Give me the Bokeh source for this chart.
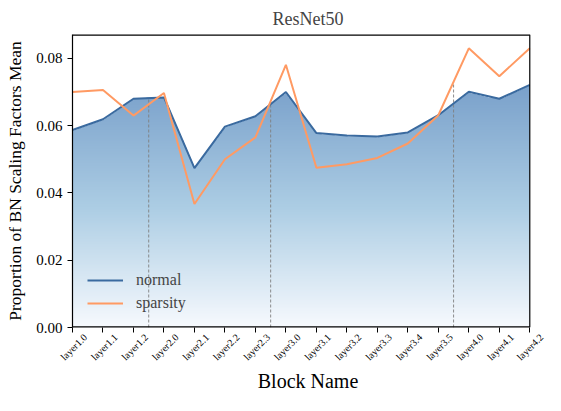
import numpy as np
from bokeh.plotting import figure
from bokeh.models import FixedTicker, Range1d, Legend, LegendItem, NumeralTickFormatter, LinearAxis
from bokeh.embed import file_html
from bokeh.resources import INLINE

blocks = ["layer1.0", "layer1.1", "layer1.2", "layer2.0", "layer2.1", "layer2.2", "layer2.3",
          "layer3.0", "layer3.1", "layer3.2", "layer3.3", "layer3.4", "layer3.5",
          "layer4.0", "layer4.1", "layer4.2"]
normal = [0.0587, 0.0619, 0.0680, 0.0684, 0.0474, 0.0597, 0.0628, 0.0700,
          0.0578, 0.0571, 0.0568, 0.0580, 0.0631, 0.0701, 0.0680, 0.0721]
sparsity = [0.0700, 0.0706, 0.0630, 0.0697, 0.0367, 0.0500, 0.0565, 0.0781,
            0.0475, 0.0485, 0.0504, 0.0547, 0.0631, 0.0830, 0.0747, 0.0830]
y_ticks = [0.0, 0.02, 0.04, 0.06, 0.08]

FONT = "Liberation Serif"
xpos = [float(i) for i in range(len(blocks))]
x = np.array(xpos)
YMAX = 0.0871
XMAX = float(len(blocks) - 1)
EXTRA = 0.45      # blank room right of the box so the last rotated label can show
LBL_SHIFT = 0.42  # centres the rotated labels on their ticks

p = figure(width=545, height=395, output_backend="svg", toolbar_location=None,
           x_range=Range1d(0, XMAX + EXTRA), y_range=Range1d(0, YMAX),
           min_border_left=72, min_border_right=2, min_border_top=30, min_border_bottom=60)
p.extra_x_ranges = {"lbl": Range1d(-LBL_SHIFT, XMAX + EXTRA - LBL_SHIFT)}

# gradient fill under the normal curve (image masked by the curve)
W, H = 457, 300
xs = np.linspace(0, XMAX, W)
ys = np.linspace(0, YMAX, H)
curve = np.interp(xs, x, normal)
stops_v = [0.0, 0.036, 0.072]
stops_c = np.array([[247, 250, 254], [172, 205, 228], [122, 161, 203]], dtype=float)
cols = np.stack([np.interp(ys, stops_v, stops_c[:, k]) for k in range(3)], axis=1)
img = np.zeros((H, W), dtype=np.uint32)
view = img.view(dtype=np.uint8).reshape((H, W, 4))
mask = ys[:, None] <= curve[None, :]
for k in range(3):
    view[:, :, k] = np.repeat(cols[:, k][:, None], W, axis=1).astype(np.uint8)
view[:, :, 3] = np.where(mask, 255, 0)
p.image_rgba(image=[img], x=0, y=0, dw=XMAX, dh=YMAX)

# group boundaries (dashed)
bx = [i - 0.5 for i in range(1, len(blocks)) if blocks[i].split(".")[0] != blocks[i - 1].split(".")[0]]
btop = [float(max(np.interp(b, x, normal), np.interp(b, x, sparsity))) for b in bx]
p.segment(x0=bx, y0=[0.0] * len(bx), x1=bx, y1=btop, line_color="#808080",
          line_dash="3 2", line_width=0.9)

r1 = p.line(xpos, normal, line_color="#3a6a9f", line_width=2)
r2 = p.line(xpos, sparsity, line_color="#ff9a63", line_width=2)

# box around the data area (top, right, bottom spines)
p.segment(x0=[0.0, XMAX, 0.0], y0=[YMAX, 0.0, 0.0], x1=[XMAX, XMAX, XMAX], y1=[YMAX, YMAX, 0.0],
          line_color="black", line_width=[2.4, 1.2, 2.4])

legend = Legend(items=[LegendItem(label="normal", renderers=[r1]),
                       LegendItem(label="sparsity", renderers=[r2])],
                location=(5, 4), border_line_alpha=0, background_fill_alpha=0,
                label_text_font=FONT, label_text_font_size="16px",
                glyph_width=36, spacing=3, label_standoff=13, padding=10)
p.add_layout(legend)

p.title.text = "ResNet50"
p.title.align = "center"
p.title.text_font = FONT
p.title.text_font_size = "18px"
p.title.text_font_style = "normal"
p.title.standoff = 12
p.title.offset = -4

# main x axis: ticks only
p.xaxis.ticker = FixedTicker(ticks=xpos)
p.xaxis.major_label_overrides = {i: "" for i in range(len(blocks))}
p.xaxis.major_label_standoff = 0
p.xaxis.major_label_text_font_size = "1px"
p.xaxis.axis_line_color = None

# label axis: rotated block names
lbl_axis = LinearAxis(x_range_name="lbl", ticker=FixedTicker(ticks=xpos),
                      major_label_overrides={i: b for i, b in enumerate(blocks)},
                      major_label_orientation=np.pi / 4,
                      major_label_text_font=FONT, major_label_text_font_size="10px",
                      major_label_text_color="black", major_label_standoff=3,
                      axis_line_color=None, major_tick_line_color=None, minor_tick_line_color=None,
                      major_tick_out=0, major_tick_in=0,
                      axis_label="Block Name", axis_label_text_font=FONT,
                      axis_label_text_font_size="20px", axis_label_text_font_style="normal",
                      axis_label_text_color="black", axis_label_standoff=1)
p.add_layout(lbl_axis, "below")

p.yaxis.ticker = FixedTicker(ticks=y_ticks)
p.yaxis.formatter = NumeralTickFormatter(format="0.00")
p.yaxis.major_label_text_font = FONT
p.yaxis.major_label_text_font_size = "15px"
p.yaxis.axis_label = "Proportion of BN Scaling Factors Mean"
p.yaxis.axis_label_text_font = FONT
p.yaxis.axis_label_text_font_size = "17.5px"
p.yaxis.axis_label_text_font_style = "normal"
p.yaxis.axis_label_text_color = "black"
p.yaxis.axis_label_standoff = 8
p.yaxis.axis_line_color = "black"
p.yaxis.axis_line_width = 1.2

for ax in (p.xaxis[0], p.yaxis[0]):
    ax.major_label_text_color = "black"
    ax.minor_tick_line_color = None
    ax.major_tick_out = 5
    ax.major_tick_in = 0
    ax.major_tick_line_color = "black"

p.grid.visible = False
p.outline_line_color = None

open("out.html", "w").write(file_html(p, INLINE))
